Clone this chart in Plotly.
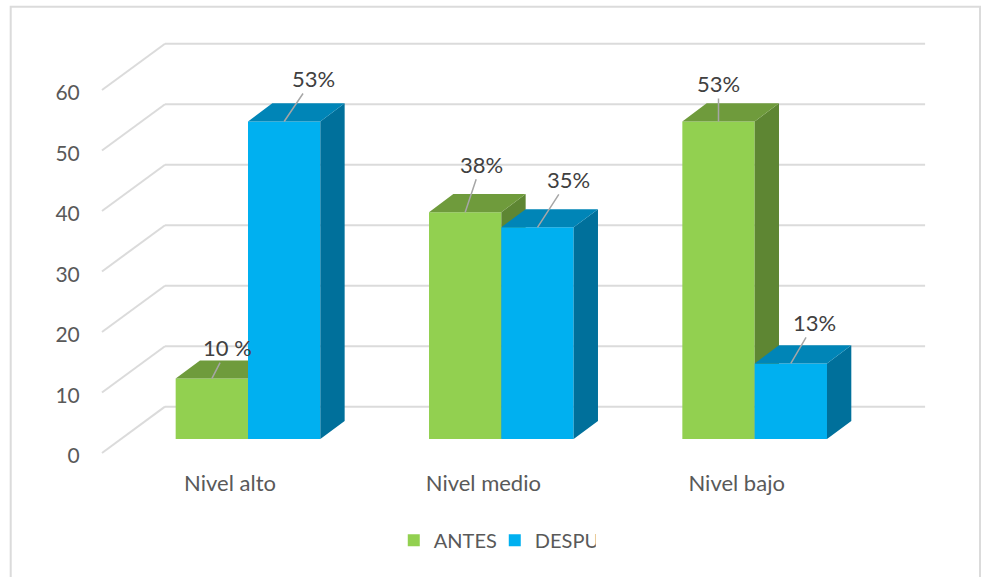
import plotly.graph_objects as go

# ---- data ----
categories = ["Nivel alto", "Nivel medio", "Nivel bajo"]
antes = [10, 37.5, 52.5]
despues = [52.5, 35, 12.5]
antes_labels = ["10 %", "38%", "53%"]
despues_labels = ["53%", "35%", "13%"]
y_ticks = [0, 10, 20, 30, 40, 50, 60]

# ---- styling / geometry ----
FONT = "Lato"
GREEN, GREEN_TOP, GREEN_SIDE = "#92D050", "#6F9B3C", "#5E8633"
BLUE, BLUE_TOP, BLUE_SIDE = "#00B0F0", "#0085B7", "#00709B"
GRID = "#DBDBDB"
BAR_W = 0.2855
BASE = 2.3           # bars stand this far into the floor
BAR_DX, BAR_DY = 0.096, 3.0      # bar depth in axis units
WALL_DX, WALL_DY = 0.2487, 7.65  # chart depth in axis units
X_RANGE = [-0.6, 2.7]
Y_RANGE = [-1, 68.6]
WALL_X0 = -0.5764
X_END = 2.6727
LABEL_SHIFT = -0.071
TICK_SHIFT = -0.5    # nudges tick text to sit level with the gridline start
M_L, M_R, M_T, M_B = 96, 53, 38, 118
W, H = 985, 577
antes_offsets = [(16, -31), (16, -48), (0, -38)]
despues_offsets = [(29, -43), (31, -48), (24, -41)]


def faces(values, left_offset):
    sx, sy, tx, ty = [], [], [], []
    for i, v in enumerate(values):
        xl = i + left_offset
        xr = xl + BAR_W
        top = BASE + v
        sx += [xr, xr + BAR_DX, xr + BAR_DX, xr, xr, None]
        sy += [BASE, BASE + BAR_DY, top + BAR_DY, top, BASE, None]
        tx += [xl, xl + BAR_DX, xr + BAR_DX, xr, xl, None]
        ty += [top, top + BAR_DY, top + BAR_DY, top, top, None]
    return sx, sy, tx, ty


def add_series(fig, name, values, offset, front, top, side, xa, ya):
    idx = list(range(len(categories)))
    fig.add_trace(go.Bar(name=name, x=idx, y=values, base=BASE, width=BAR_W, offset=offset,
                         marker=dict(color=front, line=dict(width=0)),
                         hoverinfo="skip", xaxis=xa, yaxis=ya, showlegend=True))
    sx, sy, tx, ty = faces(values, offset)
    for fx, fy, col in ((sx, sy, side), (tx, ty, top)):
        fig.add_trace(go.Scatter(x=fx, y=fy, mode="lines", fill="toself", fillcolor=col,
                                 line=dict(width=0, color=col), hoverinfo="skip",
                                 showlegend=False, xaxis=xa, yaxis=ya))


fig = go.Figure()
add_series(fig, "ANTES", antes, -BAR_W, GREEN, GREEN_TOP, GREEN_SIDE, "x", "y")
add_series(fig, "DESPUES", despues, 0, BLUE, BLUE_TOP, BLUE_SIDE, "x2", "y2")

shapes = []
for t in y_ticks:
    left = dict(type="line", xref="x", yref="y", layer="below", line=dict(color=GRID, width=2))
    shapes.append({**left, "x0": WALL_X0, "y0": t, "x1": WALL_X0 + WALL_DX, "y1": t + WALL_DY})
    shapes.append({**left, "x0": WALL_X0 + WALL_DX, "y0": t + WALL_DY, "x1": X_END, "y1": t + WALL_DY})

plot_w = W - M_L - M_R
plot_h = H - M_T - M_B
shapes.append(dict(type="rect", xref="paper", yref="paper", layer="below",
                   x0=(10.7 - M_L) / plot_w, x1=(980 - M_L) / plot_w,
                   y0=-0.5, y1=1 + (M_T - 6.7) / plot_h,
                   line=dict(color=GRID, width=2), fillcolor="rgba(0,0,0,0)"))

annotations = []
for i in range(len(categories)):
    for vals, labs, offs, cx in ((antes, antes_labels, antes_offsets, -BAR_W / 2),
                                 (despues, despues_labels, despues_offsets, BAR_W / 2)):
        annotations.append(dict(x=i + cx, y=BASE + vals[i], xref="x", yref="y",
                                text=labs[i], showarrow=True, arrowhead=0, arrowwidth=1.5,
                                arrowcolor="#A6A6A6", ax=offs[i][0], ay=offs[i][1],
                                font=dict(family=FONT, size=22, color="#404040"), borderpad=1))

axis_common = dict(showgrid=False, zeroline=False, showline=False)
fig.update_layout(
    width=W, height=H, autosize=False,
    margin=dict(l=M_L, r=M_R, t=M_T, b=M_B),
    paper_bgcolor="white", plot_bgcolor="rgba(0,0,0,0)",
    barmode="overlay",
    font=dict(family=FONT, size=20, color="#595959"),
    shapes=shapes, annotations=annotations,
    hovermode=False,
    legend=dict(orientation="h", x=0.477, xanchor="center", y=-0.193, yanchor="middle",
                font=dict(family=FONT, size=20, color="#595959"), itemwidth=30,
                entrywidth=56, entrywidthmode="pixels",
                bgcolor="rgba(0,0,0,0)"),
    xaxis=dict(range=X_RANGE, tickmode="array", tickvals=[i + LABEL_SHIFT for i in range(len(categories))],
               ticktext=categories, ticks="outside", ticklen=5, tickcolor="rgba(0,0,0,0)",
               tickfont=dict(family=FONT, size=22, color="#595959"), **axis_common),
    yaxis=dict(range=Y_RANGE, tickmode="array", tickvals=[t + TICK_SHIFT for t in y_ticks],
               ticktext=[str(t) for t in y_ticks], ticks="outside", ticklen=11,
               tickcolor="rgba(0,0,0,0)",
               tickfont=dict(family=FONT, size=21, color="#595959"), **axis_common),
    xaxis2=dict(range=X_RANGE, overlaying="x", visible=False, **axis_common),
    yaxis2=dict(range=Y_RANGE, overlaying="y", visible=False, **axis_common),
)

fig.write_html("out.html", config=dict(displayModeBar=False),
               post_script="document.body.style.margin='0';")
